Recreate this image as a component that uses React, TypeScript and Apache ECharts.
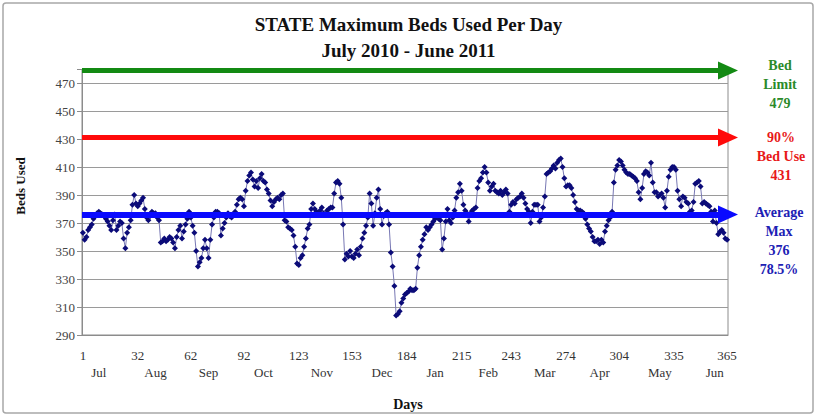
import React, { useEffect, useRef } from 'react';
import * as echarts from 'echarts';

// Maximum beds used per day, July 2010 (day 1) to June 2011 (day 365)
const bedsUsed: number[] = [
  363, 358, 360, 365, 367, 369, 373, 375, 377, 378,
  377, 376, 375, 373, 371, 368, 365, 372, 376, 365,
  368, 371, 370, 359, 352, 363, 367, 372, 383, 390,
  384, 382, 384, 386, 388, 380, 374, 372, 375, 378,
  377, 377, 374, 372, 356, 357, 359, 357, 358, 360,
  359, 356, 352, 360, 365, 368, 359, 364, 369, 373,
  378, 374, 368, 363, 350, 339, 342, 345, 352, 358,
  352, 345, 358, 369, 374, 378, 378, 377, 361, 366,
  370, 374, 377, 375, 374, 376, 378, 383, 387, 388,
  387, 382, 393, 400, 404, 406, 401, 396, 400, 395,
  402, 405, 400, 399, 394, 391, 386, 382, 385, 387,
  388, 387, 390, 391, 372, 371, 367, 366, 365, 361,
  353, 341, 340, 345, 347, 353, 359, 366, 369, 380,
  384, 380, 378, 376, 379, 381, 377, 376, 379, 380,
  381, 381, 391, 399, 400, 398, 388, 369, 344, 348,
  346, 350, 346, 345, 348, 351, 347, 353, 359, 363,
  368, 374, 391, 384, 368, 377, 388, 394, 380, 369,
  375, 377, 378, 369, 349, 339, 325, 304, 305, 307,
  313, 316, 319, 320, 321, 323, 322, 322, 323, 338,
  347, 353, 358, 362, 367, 365, 367, 369, 371, 373,
  374, 373, 372, 351, 359, 371, 380, 372, 370, 374,
  379, 388, 392, 398, 393, 383, 379, 377, 371, 377,
  379, 380, 381, 395, 400, 402, 406, 410, 406, 399,
  393, 396, 398, 393, 392, 391, 393, 390, 392, 394,
  391, 378, 383, 385, 384, 387, 388, 389, 391, 388,
  384, 380, 378, 370, 378, 383, 383, 383, 371, 374,
  381, 389, 405, 406, 407, 409, 411, 409, 413, 415,
  416, 410, 402, 396, 397, 397, 395, 390, 385, 380,
  379, 379, 378, 377, 373, 369, 366, 364, 360, 357,
  357, 358, 355, 358, 356, 364, 368, 372, 374, 378,
  399, 408, 411, 415, 414, 411, 408, 406, 405, 405,
  404, 403, 402, 400, 392, 387, 395, 405, 407, 406,
  404, 413, 399, 392, 392, 389, 390, 391, 388, 381,
  393, 403, 408, 410, 410, 408, 393, 387, 382, 389,
  388, 385, 384, 378, 379, 385, 398, 399, 400, 396,
  384, 385, 384, 383, 382, 378, 371, 379, 370, 362,
  364, 365, 363, 359, 358,
];

const dayCategories: string[] = bedsUsed.map((_, i) => String(i + 1));
const dayTickLabels: number[] = [1, 32, 62, 92, 123, 153, 184, 215, 243, 274, 304, 335, 365];
const monthNames: string[] = ['Jul', 'Aug', 'Sep', 'Oct', 'Nov', 'Dec', 'Jan', 'Feb', 'Mar', 'Apr', 'May', 'Jun'];
const monthLabelDays: number[] = [10, 42, 72, 103, 136, 170, 200, 230, 262, 293, 327, 358];
const yTickLabels: number[] = [290, 310, 330, 350, 370, 390, 410, 430, 450, 470];

const bedLimit = 479;
const bedUse90 = 431;
const averageMax = 376;
const averagePct = '78.5%';

const SERIF = '"Liberation Serif", "Times New Roman", serif';
const GREEN = '#138a13';
const RED = '#ff0a0a';
const BLUE = '#0a0aff';

export default function App() {
  const ref = useRef<HTMLDivElement>(null);

  useEffect(() => {
    document.body.style.margin = '0';
    if (!ref.current) return;
    const chart = echarts.init(ref.current, null, { renderer: 'svg' });

    const option: any = {
      animation: false,
      backgroundColor: '#ffffff',
      title: {
        text: 'STATE Maximum Beds Used Per Day\nJuly 2010 - June 2011',
        left: 'center',
        top: 6,
        textStyle: {
          fontFamily: SERIF,
          fontWeight: 'bold',
          fontSize: 19,
          lineHeight: 26,
          color: '#111',
        },
      },
      grid: {
        left: 82,
        right: 89,
        top: 69,
        bottom: 82,
        show: true,
        borderColor: '#8c8c8c',
        borderWidth: 1,
        backgroundColor: 'transparent',
      },
      xAxis: [
        {
          type: 'category',
          data: dayCategories,
          boundaryGap: true,
          position: 'bottom',
          axisLine: { show: true, lineStyle: { color: '#8c8c8c', width: 1 } },
          axisTick: { show: false },
          splitLine: { show: false },
          axisLabel: {
            interval: (index: number) => dayTickLabels.includes(index + 1),
            fontFamily: SERIF,
            fontSize: 13,
            color: '#333',
            margin: 14,
          },
        },
        {
          type: 'category',
          data: dayCategories,
          boundaryGap: true,
          position: 'bottom',
          offset: 17,
          axisLine: { show: false },
          axisTick: { show: false },
          splitLine: { show: false },
          axisLabel: {
            interval: (index: number) => monthLabelDays.includes(index + 1),
            formatter: (value: string) => {
              const k = monthLabelDays.indexOf(Number(value));
              return k >= 0 ? monthNames[k] : '';
            },
            fontFamily: SERIF,
            fontSize: 13,
            color: '#333',
            margin: 14,
          },
        },
      ],
      yAxis: {
        type: 'value',
        min: 290,
        max: 480,
        interval: 20,
        axisLine: { show: true, lineStyle: { color: '#8c8c8c', width: 1 } },
        axisTick: { show: true, inside: false, length: 5, lineStyle: { color: '#8c8c8c' } },
        splitLine: { show: true, lineStyle: { color: '#9a9a9a', width: 1 } },
        axisLabel: {
          formatter: (v: number) => (yTickLabels.includes(v) ? String(v) : ''),
          fontFamily: SERIF,
          fontSize: 13,
          color: '#444',
          margin: 7,
        },
      },
      series: [
        {
          type: 'line',
          xAxisIndex: 0,
          data: bedsUsed,
          clip: false,
          symbol: 'diamond',
          symbolSize: 6,
          showAllSymbol: true,
          itemStyle: { color: '#0b0b78' },
          lineStyle: { color: '#7878b4', width: 1 },
          markLine: {
            silent: true,
            symbol: ['none', 'triangle'],
            symbolSize: [18, 20],
            label: { show: false },
            data: [
              { yAxis: bedLimit, lineStyle: { color: GREEN, width: 5, type: 'solid' }, itemStyle: { color: GREEN } },
              { yAxis: bedUse90, lineStyle: { color: RED, width: 5, type: 'solid' }, itemStyle: { color: RED } },
              { yAxis: averageMax, lineStyle: { color: BLUE, width: 6, type: 'solid' }, itemStyle: { color: BLUE } },
            ],
          },
        },
      ],
      graphic: [
        {
          type: 'rect',
          shape: { x: 3, y: 3, width: 810, height: 410, r: 3 },
          style: { fill: 'none', stroke: '#a8a8a8', lineWidth: 1.5 },
          silent: true,
        },
        {
          type: 'text',
          x: 20,
          y: 186,
          rotation: Math.PI / 2,
          style: {
            text: 'Beds Used',
            fontFamily: SERIF,
            fontWeight: 'bold',
            fontSize: 13,
            fill: '#111',
            textAlign: 'center',
            textVerticalAlign: 'middle',
          },
        },
        {
          type: 'text',
          x: 408,
          y: 404,
          style: {
            text: 'Days',
            fontFamily: SERIF,
            fontWeight: 'bold',
            fontSize: 14,
            fill: '#111',
            textAlign: 'center',
            textVerticalAlign: 'middle',
          },
        },
        {
          type: 'text',
          x: 780,
          y: 84,
          style: {
            text: 'Bed\nLimit\n' + bedLimit,
            fontFamily: SERIF,
            fontWeight: 'bold',
            fontSize: 14,
            lineHeight: 19,
            fill: '#2a8a2a',
            textAlign: 'center',
            textVerticalAlign: 'middle',
          },
        },
        {
          type: 'text',
          x: 781,
          y: 156,
          style: {
            text: '90%\nBed Use\n' + bedUse90,
            fontFamily: SERIF,
            fontWeight: 'bold',
            fontSize: 14,
            lineHeight: 19,
            fill: '#e81818',
            textAlign: 'center',
            textVerticalAlign: 'middle',
          },
        },
        {
          type: 'text',
          x: 779,
          y: 241,
          style: {
            text: 'Average\nMax\n' + averageMax + '\n' + averagePct,
            fontFamily: SERIF,
            fontWeight: 'bold',
            fontSize: 14,
            lineHeight: 19,
            fill: '#2020b4',
            textAlign: 'center',
            textVerticalAlign: 'middle',
          },
        },
      ],
    };

    chart.setOption(option);
    return () => {
      chart.dispose();
    };
  }, []);

  return (
    <div
      ref={ref}
      style={{ position: 'absolute', left: 0, top: 0, width: 817, height: 417 }}
    />
  );
}
